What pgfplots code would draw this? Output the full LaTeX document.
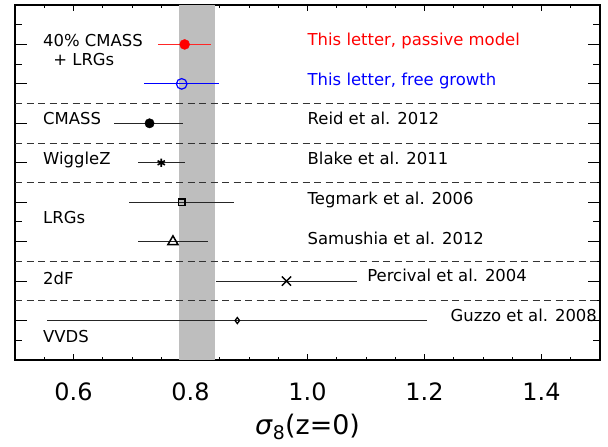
\documentclass[border=0pt]{standalone}
\usepackage{fontspec}
\setmainfont{DejaVu Sans}
\usepackage{pgfplots}
\pgfplotsset{compat=1.18}
\definecolor{band}{RGB}{190,190,190}
\definecolor{myred}{RGB}{255,0,0}
\definecolor{myblue}{RGB}{0,0,255}
\begin{document}
\begin{tikzpicture}
\begin{axis}[
  at={(0,0)}, anchor=south west,
  scale only axis, width=585bp, height=355bp,
  xmin=0.5, xmax=1.5, ymin=0, ymax=18,
  xtick={0.6,0.8,1.0,1.2,1.4},
  xticklabels={0.6,0.8,1.0,1.2,1.4},
  minor xtick={0.55,0.65,0.7,0.75,0.85,0.9,0.95,1.05,1.1,1.15,1.25,1.3,1.35,1.45},
  ytick={2,4,...,16},
  minor ytick={1,3,...,17},
  yticklabels={},
  tick align=inside,
  axis line style={line width=1.2bp},
  major tick style={line width=0.9bp, black},
  minor tick style={line width=0.9bp, black},
  major tick length=12bp, minor tick length=7bp,
  xtick style={/pgfplots/major tick length=6bp, /pgfplots/minor tick length=3.5bp},
  xticklabel style={font=\fontsize{24}{24}\selectfont, inner sep=0pt, anchor=north, yshift=-23bp},
  xlabel={\textit{σ}\textsubscript{8}(z=0)},
  xlabel style={font=\fontsize{27}{30}\selectfont, at={(axis description cs:0.5,0)}, anchor=center, yshift=-67bp},
  clip=true,
]
% grey band
\addplot[fill=band, draw=none, mark=none] coordinates {(0.78,18) (0.842,18)} \closedcycle;
% dashed separators
\addplot[black!80, line width=0.9bp, dash pattern=on 7bp off 4.5bp, mark=none] coordinates {(0.5,13) (1.5,13)};
\addplot[black!80, line width=0.9bp, dash pattern=on 7bp off 4.5bp, mark=none] coordinates {(0.5,11) (1.5,11)};
\addplot[black!80, line width=0.9bp, dash pattern=on 7bp off 4.5bp, mark=none] coordinates {(0.5,9) (1.5,9)};
\addplot[black!80, line width=0.9bp, dash pattern=on 7bp off 4.5bp, mark=none] coordinates {(0.5,5) (1.5,5)};
\addplot[black!80, line width=0.9bp, dash pattern=on 7bp off 4.5bp, mark=none] coordinates {(0.5,3) (1.5,3)};
% This letter, passive model
\addplot[only marks, mark=*, mark size=5bp, color=myred,
  error bars/.cd, x dir=both, x explicit, error mark=none,
  error bar style={line width=1.4bp, draw=myred!85}]
  coordinates {(0.79,16) += (0.045,0) -= (0.045,0)};
% This letter, free growth
\addplot[only marks, mark=o, mark size=5.3bp, line width=1.2bp, color=myblue,
  error bars/.cd, x dir=both, x explicit, error mark=none,
  error bar style={line width=1.2bp, draw=myblue}]
  coordinates {(0.785,14) += (0.064,0) -= (0.065,0)};
% Reid 2012
\addplot[only marks, mark=*, mark size=4.7bp, color=black,
  error bars/.cd, x dir=both, x explicit, error mark=none,
  error bar style={line width=1.2bp, draw=black!85}]
  coordinates {(0.73,12) += (0.058,0) -= (0.06,0)};
% Blake 2011
\addplot[only marks, mark=asterisk, mark size=4.2bp, line width=1.6bp, color=black,
  error bars/.cd, x dir=both, x explicit, error mark=none,
  error bar style={line width=1.2bp, draw=black!85}]
  coordinates {(0.75,10) += (0.04,0) -= (0.04,0)};
% Tegmark 2006
\addplot[only marks, mark=square, mark size=3.4bp, line width=1.5bp, color=black,
  error bars/.cd, x dir=both, x explicit, error mark=none,
  error bar style={line width=1.2bp, draw=black!85}]
  coordinates {(0.785,8) += (0.09,0) -= (0.09,0)};
% Samushia 2012
\addplot[only marks, mark=triangle, mark size=5.8bp, line width=1.5bp, color=black,
  error bars/.cd, x dir=both, x explicit, error mark=none,
  error bar style={line width=1.2bp, draw=black!85}]
  coordinates {(0.77,6) += (0.06,0) -= (0.06,0)};
% Percival 2004
\addplot[only marks, mark=x, mark size=6.5bp, line width=1.4bp, color=black,
  error bars/.cd, x dir=both, x explicit, error mark=none,
  error bar style={line width=1.2bp, draw=black!85}]
  coordinates {(0.964,4) += (0.12,0) -= (0.12,0)};
% Guzzo 2008
\addplot[only marks, mark=diamond, mark size=3bp, line width=1.3bp, color=black,
  error bars/.cd, x dir=both, x explicit, error mark=none,
  error bar style={line width=1.2bp, draw=black!85}]
  coordinates {(0.88,2) += (0.325,0) -= (0.325,0)};
% labels
\begin{scope}[every node/.style={inner sep=0pt, font=\fontsize{16.5}{18}\selectfont}]
\node[anchor=base west] at (axis cs:0.5479,15.92) {40\% CMASS};
\node[anchor=base west] at (axis cs:0.5653,14.92) {+ LRGs};
\node[anchor=base west] at (axis cs:0.5479,11.92) {CMASS};
\node[anchor=base west] at (axis cs:0.5479,9.89) {WiggleZ};
\node[anchor=base west] at (axis cs:0.5479,6.90) {LRGs};
\node[anchor=base west] at (axis cs:0.5479,3.85) {2dF};
\node[anchor=base west] at (axis cs:0.5479,0.90) {VVDS};
\node[anchor=base west, text=myred] at (axis cs:1.0,15.94) {This letter, passive model};
\node[anchor=base west, text=myblue] at (axis cs:1.0,13.94) {This letter, free growth};
\node[anchor=base west] at (axis cs:1.0,11.92) {Reid et al. 2012};
\node[anchor=base west] at (axis cs:1.0,9.89) {Blake et al. 2011};
\node[anchor=base west] at (axis cs:1.0,7.86) {Tegmark et al. 2006};
\node[anchor=base west] at (axis cs:1.0,5.88) {Samushia et al. 2012};
\node[anchor=base west] at (axis cs:1.102,3.97) {Percival et al. 2004};
\node[anchor=base east] at (axis cs:1.495,1.97) {Guzzo et al. 2008};
\end{scope}
\end{axis}
\pgfresetboundingbox
\path (-15bp,-87bp) rectangle (593bp,360bp);
\end{tikzpicture}
\end{document}
